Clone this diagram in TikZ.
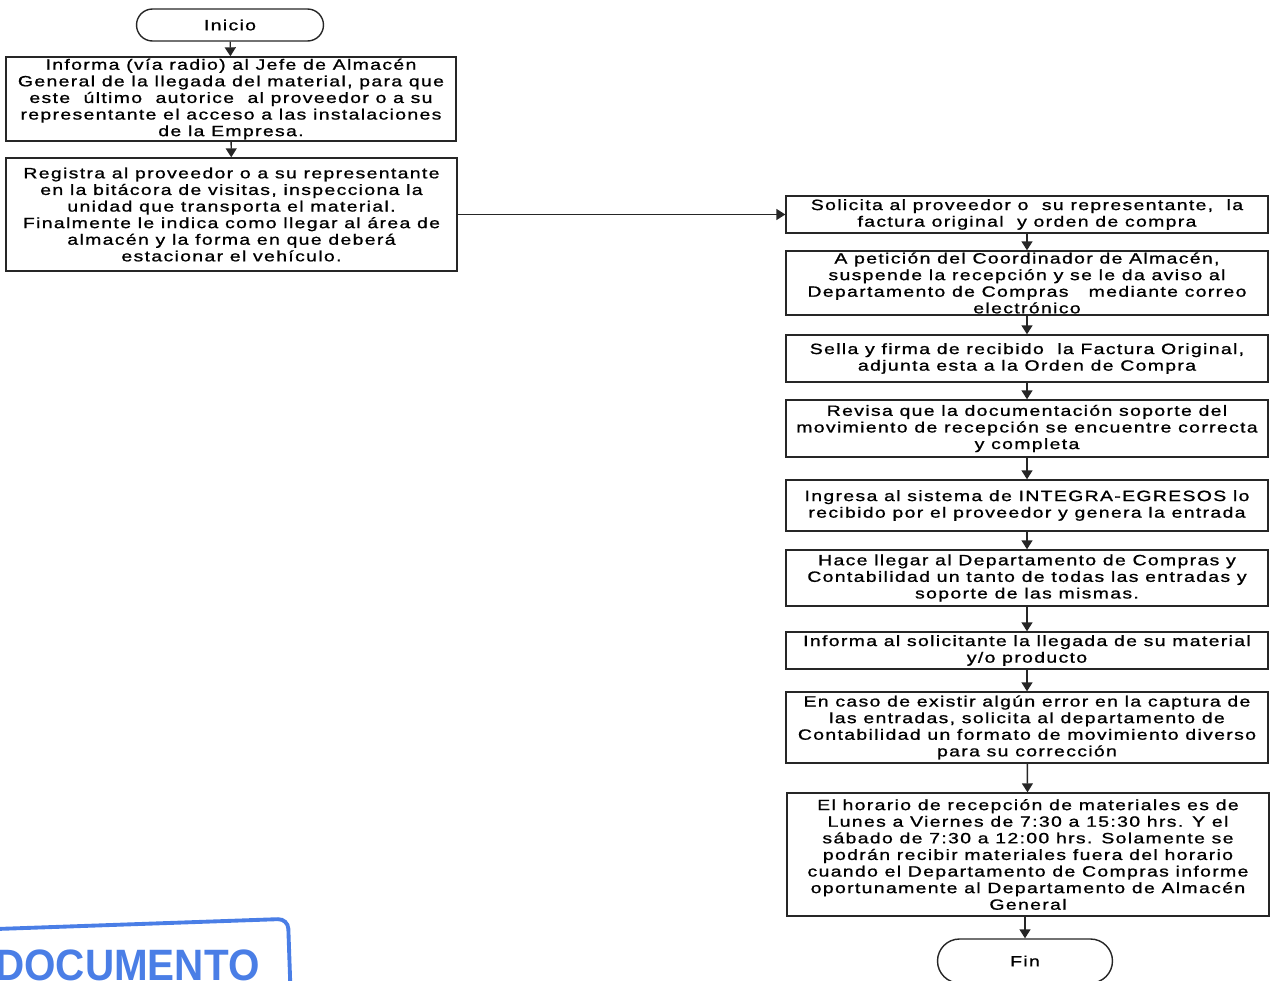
\documentclass[tikz,border=0pt]{standalone}
\usepackage{fontspec}
\setmainfont{Liberation Sans}[FakeStretch=1.3, LetterSpace=9, FakeBold=1]
\newfontfamily\stampfont{Liberation Sans}[FakeStretch=0.92]
\usepackage{xcolor}
\usepackage{tikz}
\usetikzlibrary{shapes.misc, arrows.meta, positioning, calc}

\definecolor{stampblue}{RGB}{74,126,230}

\begin{document}
\begin{tikzpicture}[x=0.02cm, y=-0.02cm]
\tikzstyle{proc} = [rectangle, draw=black!85, line width=0.8pt, align=center, inner sep=0pt, font=\fontsize{8.5}{9.45}\selectfont]
\tikzstyle{term} = [rounded rectangle, draw=black!85, line width=0.8pt, inner sep=0pt, font=\fontsize{8.5}{9.45}\selectfont]
\tikzstyle{arrow} = [-{Triangle[width=0.22cm,length=0.18cm]}, line width=0.8pt, draw=black!85]

\useasboundingbox (0,0) rectangle (1272,981);

% Left column
\node[term, minimum width=3.74cm, minimum height=0.64cm] (inicio) at (230,25) {Inicio};
\node[proc, minimum width=9cm, minimum height=1.68cm] (informa) at (231,99) {Informa (vía radio) al Jefe de Almacén\\
General de la llegada del material, para que\\
este\ \ último\ \ autorice\ \ al proveedor o a su\\
representante el acceso a las instalaciones\\
de la Empresa.};
\node[proc, minimum width=9.02cm, minimum height=2.26cm] (registra) at (231.5,214.5) {Registra al proveedor o a su representante\\
en la bitácora de visitas, inspecciona la\\
unidad que transporta el material.\\
Finalmente le indica como llegar al área de\\
almacén y la forma en que deberá\\
estacionar el vehículo.};

% Right column
\node[proc, minimum width=9.64cm, minimum height=0.74cm] (solicita) at (1027,214.5) {Solicita al proveedor o\ \ su representante,\ \ la\\
factura original\ \ y orden de compra};
\node[proc, minimum width=9.64cm, minimum height=1.28cm] (peticion) at (1027,283) {A petición del Coordinador de Almacén,\\
suspende la recepción y se le da aviso al\\
Departamento de Compras\ \ \ mediante correo\\
electrónico};
\node[proc, minimum width=9.64cm, minimum height=0.94cm] (sella) at (1027,358.5) {Sella y firma de recibido\ \ la Factura Original,\\
adjunta esta a la Orden de Compra};
\node[proc, minimum width=9.64cm, minimum height=1.14cm] (revisa) at (1027,428.5) {Revisa que la documentación soporte del\\
movimiento de recepción se encuentre correcta\\
y completa};
\node[proc, minimum width=9.64cm, minimum height=1.02cm] (ingresa) at (1027,505.5) {Ingresa al sistema de INTEGRA-EGRESOS lo\\
recibido por el proveedor y genera la entrada};
\node[proc, minimum width=9.64cm, minimum height=1.12cm] (hace) at (1027,578) {Hace llegar al Departamento de Compras y\\
Contabilidad un tanto de todas las entradas y\\
soporte de las mismas.};
\node[proc, minimum width=9.64cm, minimum height=0.74cm] (solicitante) at (1027,650.5) {Informa al solicitante la llegada de su material\\
y/o producto};
\node[proc, minimum width=9.64cm, minimum height=1.42cm] (error) at (1027,727.5) {En caso de existir algún error en la captura de\\
las entradas, solicita al departamento de\\
Contabilidad un formato de movimiento diverso\\
para su corrección};
\node[proc, minimum width=9.64cm, minimum height=2.46cm] (horario) at (1028,854.5) {El horario de recepción de materiales es de\\
Lunes a Viernes de 7:30 a 15:30 hrs. Y el\\
sábado de 7:30 a 12:00 hrs. Solamente se\\
podrán recibir materiales fuera del horario\\
cuando el Departamento de Compras informe\\
oportunamente al Departamento de Almacén\\
General};
\node[term, minimum width=3.5cm, minimum height=0.88cm] (fin) at (1025,961) {Fin};

% Stamp
\begin{scope}[rotate around={2:(140,950)}]
\draw[stampblue, line width=2.2pt, rounded corners=0.2cm] (-10,924) -- (289,924) -- (289,1000);
\node[stampblue, anchor=base west, inner sep=0pt, font=\stampfont\fontsize{25}{27}\selectfont\bfseries] (stamp) at (-6,975) {DOCUMENTO};
\end{scope}

% Connections
\draw[arrow] (inicio) -- (informa);
\draw[arrow] (informa) -- (registra);
\draw[arrow] (registra) -- (solicita);
\draw[arrow] (solicita) -- (peticion);
\draw[arrow] (peticion) -- (sella);
\draw[arrow] (sella) -- (revisa);
\draw[arrow] (revisa) -- (ingresa);
\draw[arrow] (ingresa) -- (hace);
\draw[arrow] (hace) -- (solicitante);
\draw[arrow] (solicitante) -- (error);
\draw[arrow] (error) -- (horario);
\draw[arrow] (horario.south -| fin.north) -- (fin.north);
\end{tikzpicture}
\end{document}
